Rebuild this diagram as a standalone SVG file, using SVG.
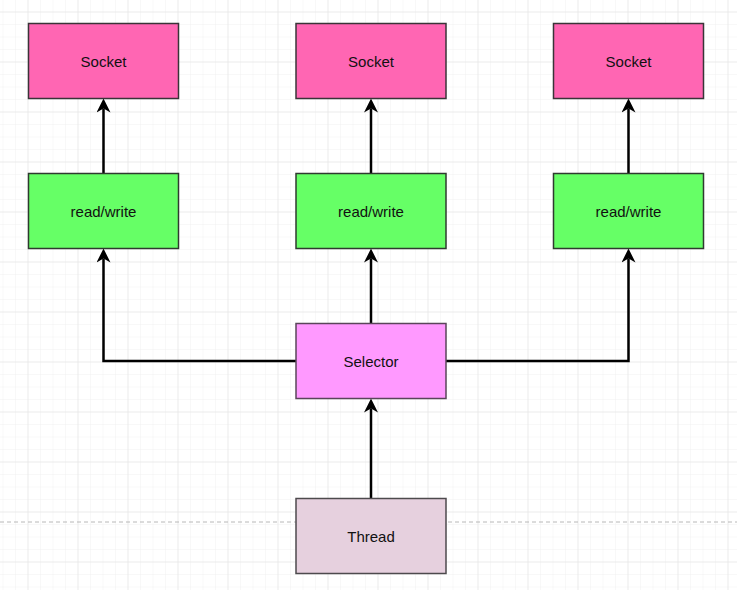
<svg xmlns="http://www.w3.org/2000/svg" width="737" height="590" viewBox="0 0 737 590">
  <style>
    .box { stroke-width: 1.5; }
    .socket { fill: #ff66b3; stroke: #3a3438; }
    .rw { fill: #66ff66; stroke: #2f3a2f; }
    .selector { fill: #ff99ff; stroke: #5a455a; }
    .thread { fill: #e6d0de; stroke: #4d4a4d; }
    .label { font-family: "Liberation Sans", Arial, sans-serif; font-size: 15px; fill: #111; text-anchor: middle; dominant-baseline: central; }
    .edge { fill: none; stroke: #000; stroke-width: 2.5; marker-end: url(#arrow); }
  </style>
  <defs>
    <pattern id="minor" patternUnits="userSpaceOnUse" x="2.5" y="11.5" width="12.5" height="12.5">
      <path d="M0 0 V12.5 M0 0 H12.5" stroke="#f1f1f1" stroke-width="1" fill="none"/>
    </pattern>
    <pattern id="major" patternUnits="userSpaceOnUse" x="27.5" y="11.5" width="50" height="50">
      <path d="M0 0 V50 M0 0 H50" stroke="#e2e2e2" stroke-width="1" fill="none"/>
    </pattern>
    <marker id="arrow" viewBox="0 0 14 14" refX="4" refY="7" markerWidth="14" markerHeight="14" markerUnits="userSpaceOnUse" orient="auto">
      <path d="M0 0 L14 7 L0 14 L4 7 Z" fill="#000"/>
    </marker>
  </defs>
  <rect width="737" height="590" fill="#ffffff"/>
  <rect width="737" height="590" fill="url(#minor)"/>
  <rect width="737" height="590" fill="url(#major)"/>
  <line x1="0" y1="522" x2="737" y2="522" stroke="#b8b8b8" stroke-width="1" stroke-dasharray="4 3"/>

  <g id="connectors">
    <path class="edge" d="M103.5 173.5 V108.5"/>
    <path class="edge" d="M371 173.5 V108.5"/>
    <path class="edge" d="M628.5 173.5 V108.5"/>
    <path class="edge" d="M296 361 H103.5 V258.5"/>
    <path class="edge" d="M371 323.5 V258.5"/>
    <path class="edge" d="M446 361 H628.5 V258.5"/>
    <path class="edge" d="M371 498.5 V408.5"/>
  </g>

  <g id="socket1">
    <rect class="box socket" x="28.5" y="23.5" width="150" height="75"/>
    <text class="label" x="103.5" y="61">Socket</text>
  </g>
  <g id="socket2">
    <rect class="box socket" x="296" y="23.5" width="150" height="75"/>
    <text class="label" x="371" y="61">Socket</text>
  </g>
  <g id="socket3">
    <rect class="box socket" x="553.5" y="23.5" width="150" height="75"/>
    <text class="label" x="628.5" y="61">Socket</text>
  </g>
  <g id="rw1">
    <rect class="box rw" x="28.5" y="173.5" width="150" height="75"/>
    <text class="label" x="103.5" y="211">read/write</text>
  </g>
  <g id="rw2">
    <rect class="box rw" x="296" y="173.5" width="150" height="75"/>
    <text class="label" x="371" y="211">read/write</text>
  </g>
  <g id="rw3">
    <rect class="box rw" x="553.5" y="173.5" width="150" height="75"/>
    <text class="label" x="628.5" y="211">read/write</text>
  </g>
  <g id="selector">
    <rect class="box selector" x="296" y="323.5" width="150" height="75"/>
    <text class="label" x="371" y="361">Selector</text>
  </g>
  <g id="thread">
    <rect class="box thread" x="296" y="498.5" width="150" height="75"/>
    <text class="label" x="371" y="536">Thread</text>
  </g>
</svg>
